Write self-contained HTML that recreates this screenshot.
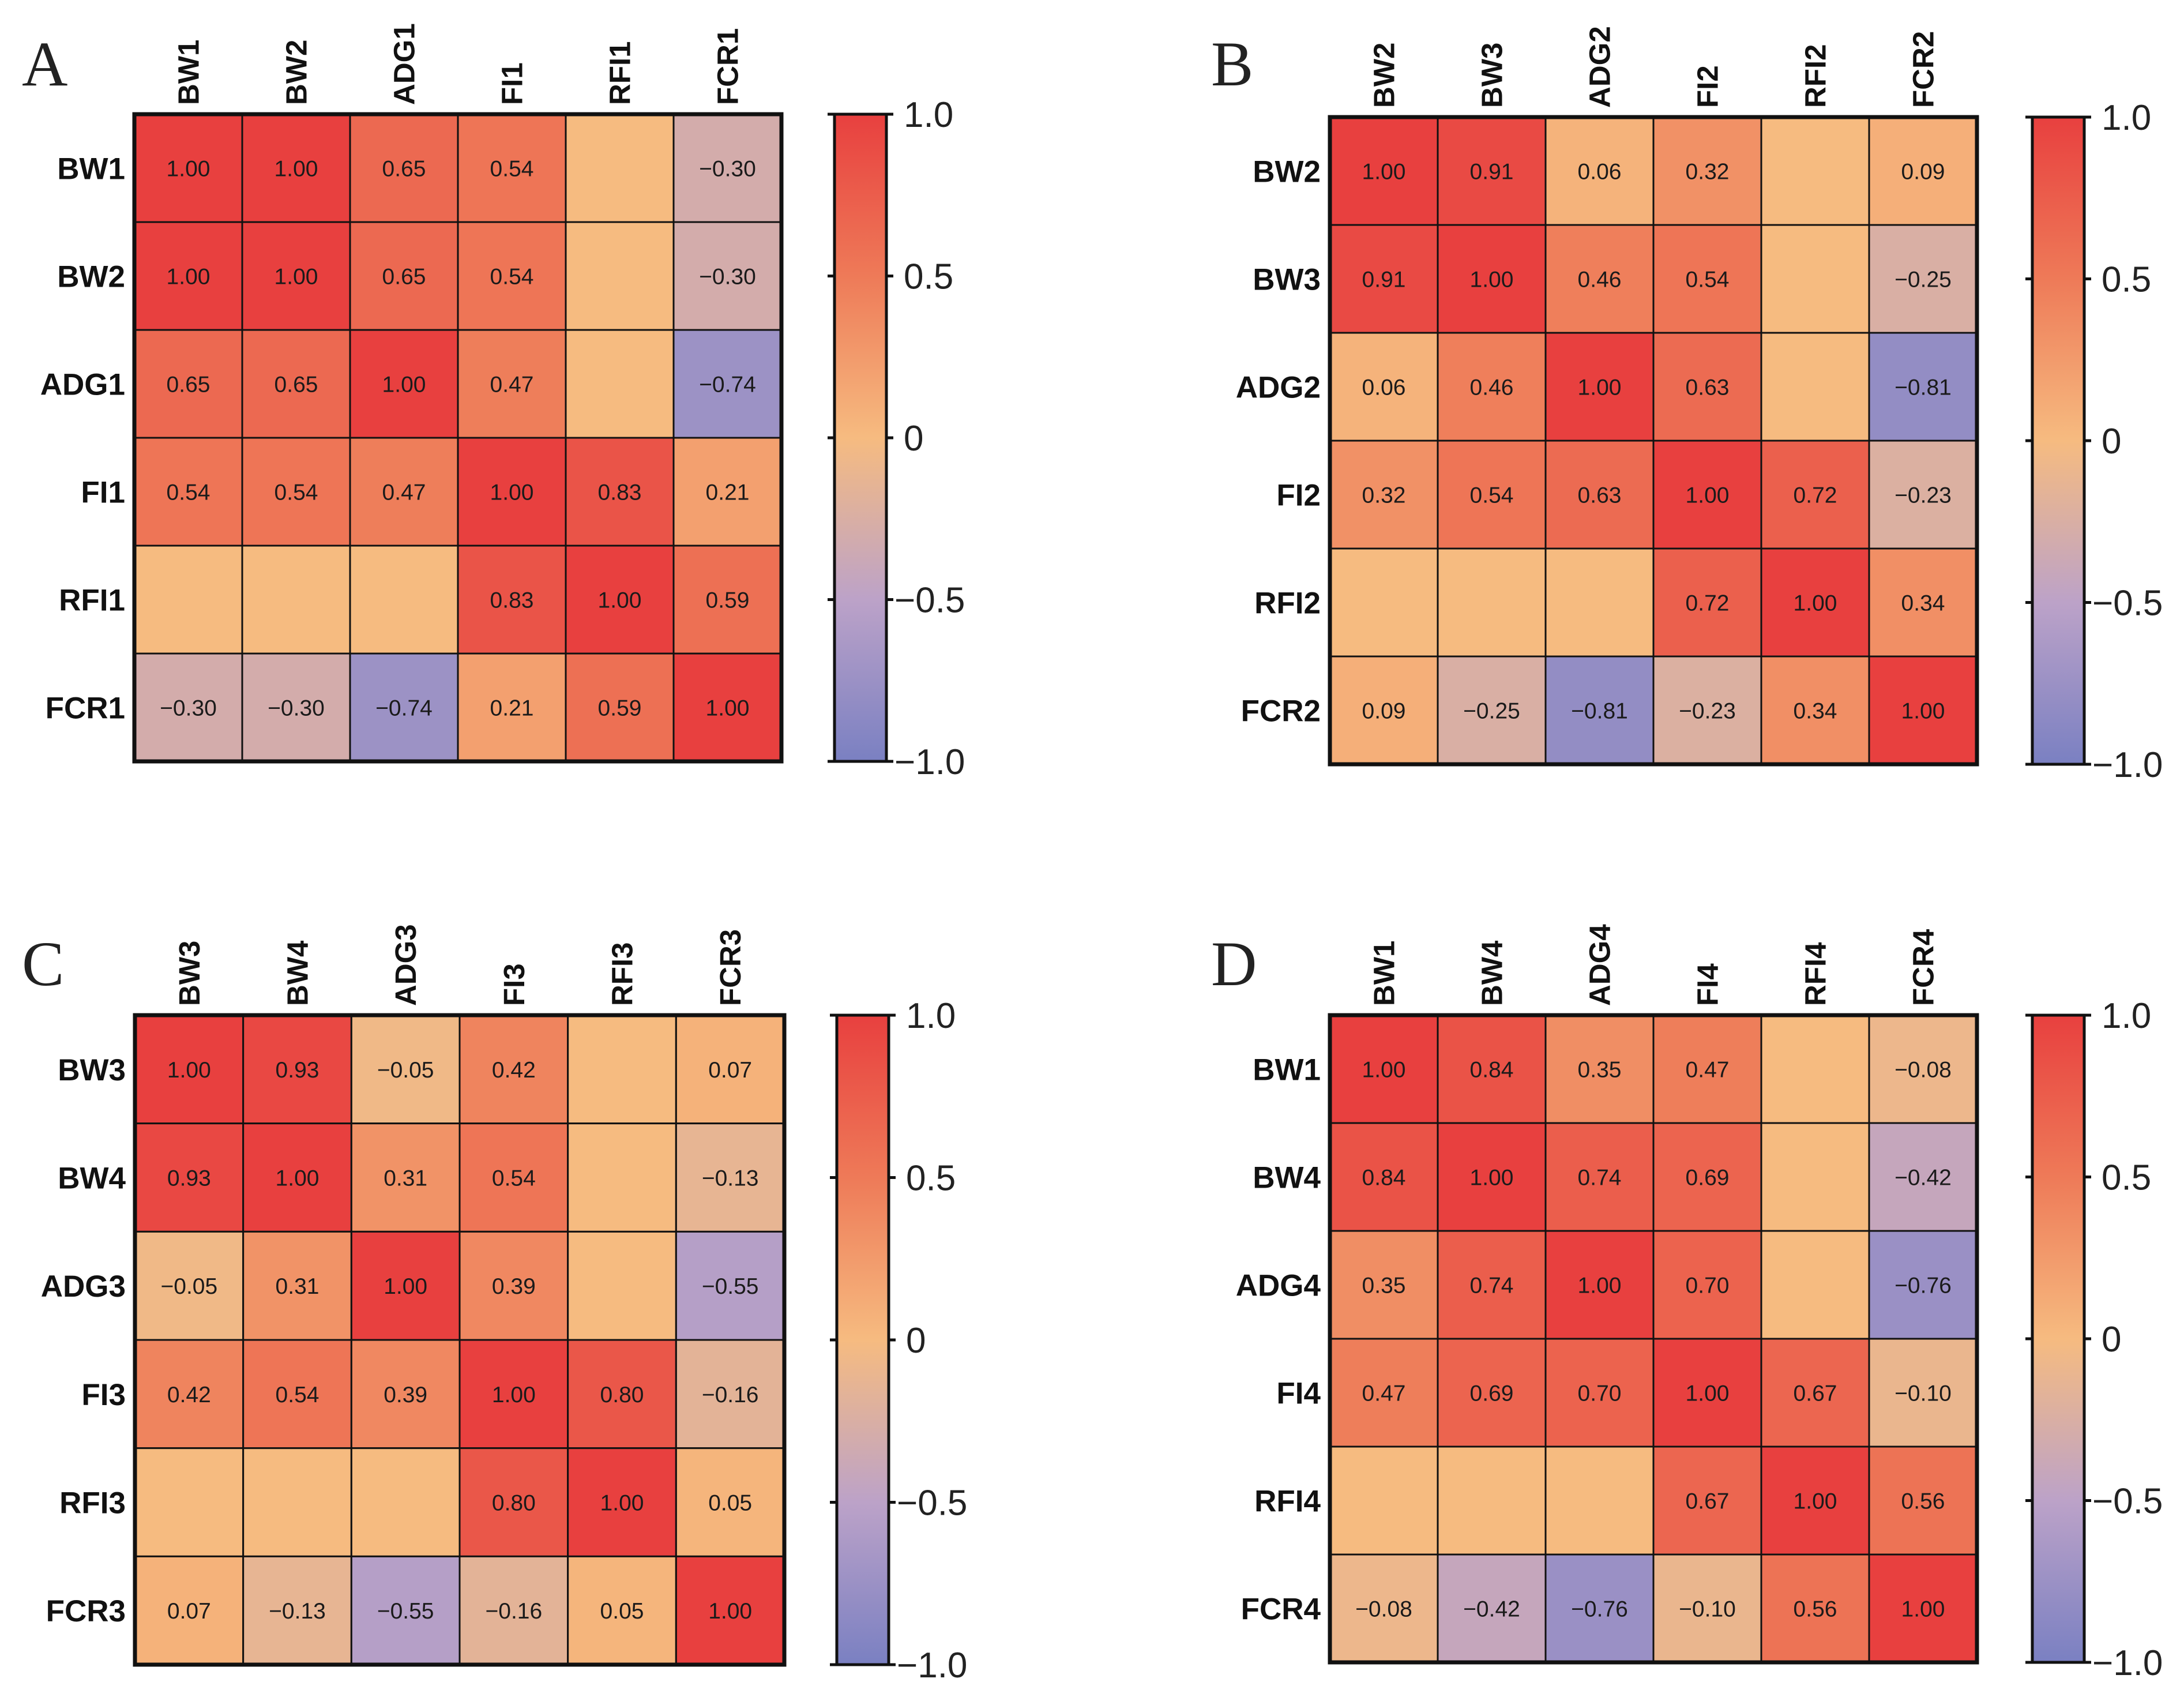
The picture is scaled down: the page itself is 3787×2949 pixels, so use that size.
<!DOCTYPE html>
<html><head><meta charset="utf-8"><style>
html,body{margin:0;padding:0;background:#fff;}
svg{display:block;}
</style></head><body>
<svg id="fig" width="3787" height="2949" viewBox="0 0 3787 2949" xmlns="http://www.w3.org/2000/svg"></svg>
<script>
const labelsA = ["BW1","BW2","ADG1","FI1","RFI1","FCR1"];
const valuesA = [
 [1.00,1.00,0.65,0.54,null,-0.30],
 [1.00,1.00,0.65,0.54,null,-0.30],
 [0.65,0.65,1.00,0.47,null,-0.74],
 [0.54,0.54,0.47,1.00,0.83,0.21],
 [null,null,null,0.83,1.00,0.59],
 [-0.30,-0.30,-0.74,0.21,0.59,1.00]];
const labelsB = ["BW2","BW3","ADG2","FI2","RFI2","FCR2"];
const valuesB = [
 [1.00,0.91,0.06,0.32,null,0.09],
 [0.91,1.00,0.46,0.54,null,-0.25],
 [0.06,0.46,1.00,0.63,null,-0.81],
 [0.32,0.54,0.63,1.00,0.72,-0.23],
 [null,null,null,0.72,1.00,0.34],
 [0.09,-0.25,-0.81,-0.23,0.34,1.00]];
const labelsC = ["BW3","BW4","ADG3","FI3","RFI3","FCR3"];
const valuesC = [
 [1.00,0.93,-0.05,0.42,null,0.07],
 [0.93,1.00,0.31,0.54,null,-0.13],
 [-0.05,0.31,1.00,0.39,null,-0.55],
 [0.42,0.54,0.39,1.00,0.80,-0.16],
 [null,null,null,0.80,1.00,0.05],
 [0.07,-0.13,-0.55,-0.16,0.05,1.00]];
const labelsD = ["BW1","BW4","ADG4","FI4","RFI4","FCR4"];
const valuesD = [
 [1.00,0.84,0.35,0.47,null,-0.08],
 [0.84,1.00,0.74,0.69,null,-0.42],
 [0.35,0.74,1.00,0.70,null,-0.76],
 [0.47,0.69,0.70,1.00,0.67,-0.10],
 [null,null,null,0.67,1.00,0.56],
 [-0.08,-0.42,-0.76,-0.10,0.56,1.00]];
const panelLetters = ["A","B","C","D"];
const cbTicks = [1.0,0.5,0,-0.5,-1.0];
const cbTickLabels = ["1.0","0.5","0","\u22120.5","\u22121.0"];

const NS="http://www.w3.org/2000/svg";
const svg=document.getElementById('fig');
const stops=[[-1,[122,128,194]],[-0.5,[188,162,200]],[0,[246,187,128]],[0.5,[238,122,88]],[1,[232,64,63]]];
function color(v){
  if(v===null) v=0;
  for(let i=0;i<stops.length-1;i++){
    const [a,ca]=stops[i],[b,cb]=stops[i+1];
    if(v>=a&&v<=b){const t=(v-a)/(b-a);
      return 'rgb('+ca.map((c,k)=>Math.round(c+(cb[k]-c)*t)).join(',')+')';}
  }
  return 'rgb(232,64,63)';
}
function mk(tag,attrs,parent){const e=document.createElementNS(NS,tag);for(const k in attrs)e.setAttribute(k,attrs[k]);parent.appendChild(e);return e;}
function fmt(v){return (v<0?'\u2212':'')+Math.abs(v).toFixed(2);}

const defs=mk('defs',{},svg);
const grad=mk('linearGradient',{id:'cbgrad',x1:0,y1:1,x2:0,y2:0},defs);
stops.forEach(s=>mk('stop',{offset:((s[0]+1)/2*100)+'%','stop-color':'rgb('+s[1].join(',')+')'},grad));

const panels=[
 {labels:labelsA,values:valuesA,gx:233,gy:198,size:1122,cbx:1447,lx:38,ly:148},
 {labels:labelsB,values:valuesB,gx:2306,gy:203,size:1122,cbx:3524,lx:2100,ly:148},
 {labels:labelsC,values:valuesC,gx:234,gy:1760,size:1126,cbx:1451,lx:38,ly:1708},
 {labels:labelsD,values:valuesD,gx:2306,gy:1760,size:1122,cbx:3524,lx:2100,ly:1708}];

panels.forEach((p,pi)=>{
  const g=mk('g',{},svg);
  
  
  const n=p.labels.length, cs=p.size/n;
  const xs=i=>p.gx+i*cs, ys=j=>p.gy+j*cs;
  const lt=mk('text',{x:p.lx,y:p.ly,'font-family':'Liberation Serif, serif','font-size':110,fill:'#222'},g);
  lt.textContent=panelLetters[pi];
  
  
  for(let r=0;r<n;r++)for(let c=0;c<n;c++){
    const v=p.values[r][c];
    const rect=mk('rect',{x:xs(c),y:ys(r),width:cs,height:cs,fill:color(v),stroke:'#111','stroke-width':3},g);
    
    
    if(v!==null){
      const t=mk('text',{x:xs(c)+cs/2,y:ys(r)+cs/2+14,'text-anchor':'middle','font-family':'Liberation Sans, sans-serif','font-size':39,fill:'#1a1a1a'},g);
      t.textContent=fmt(v);
      
      
    }
  }
  mk('rect',{x:p.gx,y:p.gy,width:p.size,height:p.size,fill:'none',stroke:'#111','stroke-width':7},g);
  p.labels.forEach((lab,i)=>{
    const rl=mk('text',{x:p.gx-16,y:ys(i)+cs/2+19,'text-anchor':'end','font-family':'Liberation Sans, sans-serif','font-weight':'bold','font-size':53,fill:'#111'},g);
    rl.textContent=lab;
    
    
    const cx=xs(i)+cs/2+18, cy=p.gy-16;
    const cl=mk('text',{x:cx,y:cy,transform:'rotate(-90 '+cx+' '+cy+')','font-family':'Liberation Sans, sans-serif','font-weight':'bold','font-size':51,fill:'#111'},g);
    cl.textContent=lab;
    
    
  });
  const cbw=90, cbTop=p.gy, cbH=p.size;
  const cbv=v=>cbTop+(1-v)/2*cbH;
  const cb=mk('rect',{x:p.cbx,y:cbTop,width:cbw,height:cbH,fill:'url(#cbgrad)',stroke:'#111','stroke-width':5},g);
  
  
  cbTicks.forEach((v,i)=>{
    const y=cbv(v);
    mk('line',{x1:p.cbx-12,x2:p.cbx,y1:y,y2:y,stroke:'#111','stroke-width':5},g);
    mk('line',{x1:p.cbx+cbw,x2:p.cbx+cbw+12,y1:y,y2:y,stroke:'#111','stroke-width':5},g);
    const tl=mk('text',{x:p.cbx+cbw+(v<0?14:30),y:y+22,'font-family':'Liberation Sans, sans-serif','font-size':62,fill:'#222'},g);
    tl.textContent=cbTickLabels[i];
    
    
  });
});
</script>
</body></html>
